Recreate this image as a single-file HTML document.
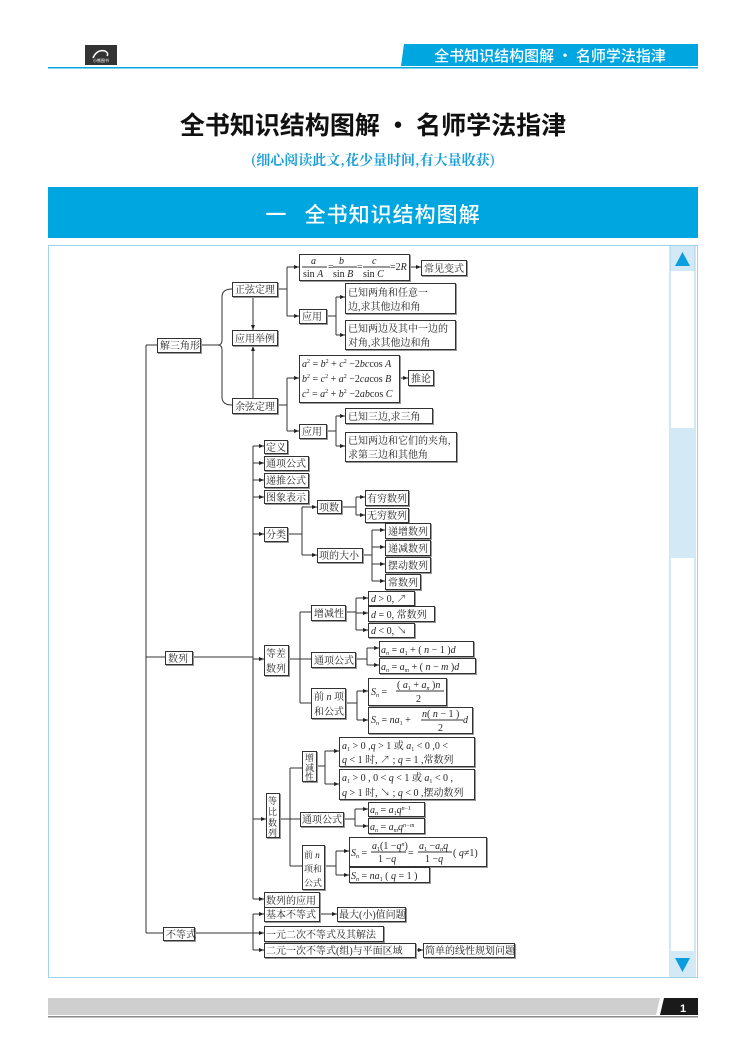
<!DOCTYPE html>
<html><head><meta charset="utf-8"><style>
html,body{margin:0;padding:0;background:#fff;}
svg{display:block;}
.b{fill:#fff;stroke:#333;stroke-width:1;}
.t{font-family:"Liberation Serif","Noto Serif CJK SC",serif;font-size:10px;fill:#222;}
.l{stroke:#333;stroke-width:1;fill:none;}
</style></head><body>
<svg width="747" height="1054" viewBox="0 0 747 1054" xmlns="http://www.w3.org/2000/svg">
<defs>
<marker id="a" markerWidth="6" markerHeight="6" refX="5" refY="3" orient="auto" markerUnits="userSpaceOnUse">
<path d="M0,1 L5,3 L0,5 z" fill="#222"/></marker>
<filter id="s"><feDropShadow dx="1" dy="1" stdDeviation="0" flood-color="#999"/></filter>
</defs>
<!-- header -->
<rect x="85" y="45" width="32" height="20" fill="#333"/>
<text x="101" y="62" font-size="4" fill="#fff" text-anchor="middle" font-family="Noto Sans CJK SC,sans-serif">小熊图书</text>
<path d="M93,58 q4,-9 12,-7 q4,2 2,5" stroke="#fff" stroke-width="1.5" fill="none"/>
<polygon points="404,44 698,44 698,66 401,66" fill="#00a6e0"/>
<text x="550" y="61" font-size="15" fill="#fff" text-anchor="middle" font-family="Noto Sans CJK SC,sans-serif" font-weight="500">全书知识结构图解 · 名师学法指津</text>
<rect x="48" y="67" width="650" height="1.5" fill="#00a6e0"/>
<text x="373" y="134" font-size="25" fill="#111" text-anchor="middle" font-family="Noto Sans CJK SC,sans-serif" font-weight="bold">全书知识结构图解 · 名师学法指津</text>
<text x="373" y="165" font-size="14" fill="#1a9fd8" text-anchor="middle" font-family="Noto Serif CJK SC,serif" font-weight="bold">(细心阅读此文,花少量时间,有大量收获)</text>
<rect x="48" y="187" width="650" height="51" fill="#00a6e0"/>
<text x="373" y="222" font-size="21" fill="#fff" text-anchor="middle" font-family="Noto Sans CJK SC,sans-serif" font-weight="500" letter-spacing="1" xml:space="preserve">一   全书知识结构图解</text>
<!-- content frame -->
<rect x="48.5" y="245.5" width="649" height="732" fill="#fff" stroke="#9dd4ea"/>
<rect x="670" y="246" width="25" height="25" fill="#d3e9f6"/>
<line x1="670" y1="246" x2="670" y2="978" stroke="#9dd4ea"/>
<line x1="695" y1="246" x2="695" y2="978" stroke="#9dd4ea"/>
<polygon points="682.5,252 690,266 675,266" fill="#0a9de0"/>
<rect x="670" y="428" width="25" height="130" fill="#d3e9f6"/>
<rect x="670" y="951" width="25" height="26" fill="#d3e9f6"/>
<polygon points="675,958 690,958 682.5,972" fill="#0a9de0"/>
<!-- footer -->
<polygon points="48,998 660,998 656,1015 48,1015" fill="#cfcfcf"/>
<polygon points="664,998 698,998 698,1015 660,1015" fill="#1a1a1a"/>
<text x="680" y="1012" font-size="11" fill="#fff" font-family="Liberation Sans,sans-serif" font-weight="bold">1</text>
<rect x="48" y="1016" width="650" height="1.5" fill="#888"/>

<!-- lines -->
<g class="l">
<path d="M146,345 V933 M146,345 H157 M146,657 H165 M146,933 H163"/>
<path d="M200,345 H218 M232,289 Q222,289 222,297 V340 Q222,345 218,345 Q222,345 222,350 V397 Q222,405 232,405"/>
<path d="M277,289 H287 M287,267 V316"/>
<path d="M287,267 H299" marker-end="url(#a)"/><path d="M287,316 H299" marker-end="url(#a)"/>
<path d="M253,296 V330" marker-end="url(#a)"/><path d="M253,398 V346" marker-end="url(#a)"/>
<path d="M409,267 H421" marker-end="url(#a)"/>
<path d="M326,316 H336 M336,297 V335"/>
<path d="M336,297 H345" marker-end="url(#a)"/><path d="M336,335 H345" marker-end="url(#a)"/>
<path d="M277,405 H287 M287,378 V431"/>
<path d="M287,378 H299" marker-end="url(#a)"/><path d="M287,431 H299" marker-end="url(#a)"/>
<path d="M399,378 H408" marker-end="url(#a)"/>
<path d="M326,431 H336 M336,416 V446"/>
<path d="M336,416 H345" marker-end="url(#a)"/><path d="M336,446 H345" marker-end="url(#a)"/>
<path d="M192,657 H253 M253,446 V899"/>
<path d="M253,446 H264" marker-end="url(#a)"/><path d="M253,463 H264" marker-end="url(#a)"/>
<path d="M253,480 H264" marker-end="url(#a)"/><path d="M253,497 H264" marker-end="url(#a)"/>
<path d="M253,534 H264" marker-end="url(#a)"/><path d="M253,659 H264" marker-end="url(#a)"/>
<path d="M253,819 H266" marker-end="url(#a)"/><path d="M253,899 H264" marker-end="url(#a)"/>
<path d="M287,534 H302 M302,507 V555"/>
<path d="M302,507 H317" marker-end="url(#a)"/><path d="M302,555 H317" marker-end="url(#a)"/>
<path d="M341,507 H356 M356,497 V515"/>
<path d="M356,497 H365" marker-end="url(#a)"/><path d="M356,515 H365" marker-end="url(#a)"/>
<path d="M362,555 H372 M372,530 V581"/>
<path d="M372,530 H385" marker-end="url(#a)"/><path d="M372,547 H385" marker-end="url(#a)"/>
<path d="M372,564 H385" marker-end="url(#a)"/><path d="M372,581 H385" marker-end="url(#a)"/>
<path d="M288,659 H300 M300,612 V703 M300,612 H311 M300,659 H311 M300,703 H311"/>
<path d="M345,612 H356 M356,598 V630"/>
<path d="M356,598 H368" marker-end="url(#a)"/><path d="M356,613 H368" marker-end="url(#a)"/><path d="M356,630 H368" marker-end="url(#a)"/>
<path d="M355,659 H367 M367,648 V665"/>
<path d="M367,648 H379" marker-end="url(#a)"/><path d="M367,665 H379" marker-end="url(#a)"/>
<path d="M345,703 H357 M357,691 V720"/>
<path d="M357,691 H368" marker-end="url(#a)"/><path d="M357,720 H368" marker-end="url(#a)"/>
<path d="M279,819 H290 M290,768 V866 M290,768 H302 M290,819 H300 M290,866 H302"/>
<path d="M316,766 H325 M325,751 V784"/>
<path d="M325,751 H339" marker-end="url(#a)"/><path d="M325,784 H339" marker-end="url(#a)"/>
<path d="M343,819 H355 M355,809 V826"/>
<path d="M355,809 H368" marker-end="url(#a)"/><path d="M355,826 H368" marker-end="url(#a)"/>
<path d="M324,866 H336 M336,851 V875"/>
<path d="M336,851 H349" marker-end="url(#a)"/><path d="M336,875 H349" marker-end="url(#a)"/>
<path d="M194,933 H253 M253,914 V950"/>
<path d="M253,914 H264" marker-end="url(#a)"/><path d="M253,933 H264" marker-end="url(#a)"/><path d="M253,950 H264" marker-end="url(#a)"/>
<path d="M319,914 H337" marker-end="url(#a)"/><path d="M415,950 H423" marker-end="url(#a)"/>
</g>

<!-- boxes -->
<g filter="url(#s)">
<rect class="b" x="157.5" y="338.5" width="43" height="14"/>
<rect class="b" x="232.5" y="282.5" width="45" height="14"/>
<rect class="b" x="232.5" y="330.5" width="45" height="15"/>
<rect class="b" x="232.5" y="398.5" width="45" height="15"/>
<rect class="b" x="299.5" y="254.5" width="110" height="26"/>
<rect class="b" x="421.5" y="260.5" width="45" height="15"/>
<rect class="b" x="299.5" y="309.5" width="27" height="14"/>
<rect class="b" x="345.5" y="283.5" width="110" height="30"/>
<rect class="b" x="345.5" y="320.5" width="110" height="29"/>
<rect class="b" x="299.5" y="355.5" width="100" height="47"/>
<rect class="b" x="408.5" y="370.5" width="25" height="15"/>
<rect class="b" x="299.5" y="424.5" width="27" height="14"/>
<rect class="b" x="345.5" y="408.5" width="87" height="15"/>
<rect class="b" x="345.5" y="432.5" width="111" height="29"/>
<rect class="b" x="264.5" y="440.5" width="23" height="13"/>
<rect class="b" x="264.5" y="456.5" width="44" height="14"/>
<rect class="b" x="264.5" y="473.5" width="44" height="14"/>
<rect class="b" x="264.5" y="490.5" width="44" height="13"/>
<rect class="b" x="264.5" y="527.5" width="23" height="14"/>
<rect class="b" x="317.5" y="500.5" width="24" height="13"/>
<rect class="b" x="317.5" y="548.5" width="45" height="14"/>
<rect class="b" x="365.5" y="490.5" width="43" height="15"/>
<rect class="b" x="365.5" y="508.5" width="43" height="14"/>
<rect class="b" x="385.5" y="523.5" width="45" height="15"/>
<rect class="b" x="385.5" y="540.5" width="45" height="15"/>
<rect class="b" x="385.5" y="557.5" width="45" height="15"/>
<rect class="b" x="385.5" y="574.5" width="35" height="15"/>
<rect class="b" x="165.5" y="651.5" width="27" height="13"/>
<rect class="b" x="264.5" y="645.5" width="24" height="30"/>
<rect class="b" x="311.5" y="605.5" width="34" height="15"/>
<rect class="b" x="311.5" y="652.5" width="44" height="15"/>
<rect class="b" x="311.5" y="688.5" width="34" height="30"/>
<rect class="b" x="368.5" y="591.5" width="46" height="14"/>
<rect class="b" x="368.5" y="606.5" width="66" height="15"/>
<rect class="b" x="368.5" y="623.5" width="46" height="14"/>
<rect class="b" x="379.5" y="641.5" width="94" height="15"/>
<rect class="b" x="379.5" y="658.5" width="96" height="15"/>
<rect class="b" x="368.5" y="678.5" width="78" height="27"/>
<rect class="b" x="368.5" y="707.5" width="104" height="26"/>
<rect class="b" x="266.5" y="793.5" width="13" height="44"/>
<rect class="b" x="302.5" y="751.5" width="14" height="30"/>
<rect class="b" x="339.5" y="737.5" width="135" height="29"/>
<rect class="b" x="339.5" y="769.5" width="135" height="30"/>
<rect class="b" x="300.5" y="812.5" width="43" height="14"/>
<rect class="b" x="368.5" y="802.5" width="56" height="14"/>
<rect class="b" x="368.5" y="818.5" width="56" height="15"/>
<rect class="b" x="302.5" y="845.5" width="22" height="44"/>
<rect class="b" x="349.5" y="837.5" width="137" height="29"/>
<rect class="b" x="349.5" y="867.5" width="80" height="15"/>
<rect class="b" x="264.5" y="892.5" width="55" height="15"/>
<rect class="b" x="163.5" y="927.5" width="31" height="13"/>
<rect class="b" x="264.5" y="907.5" width="55" height="14"/>
<rect class="b" x="337.5" y="907.5" width="68" height="14"/>
<rect class="b" x="264.5" y="926.5" width="119" height="15"/>
<rect class="b" x="264.5" y="943.5" width="151" height="14"/>
<rect class="b" x="423.5" y="943.5" width="91" height="14"/>
</g>

<!-- texts -->
<g class="t">
<text x="160" y="349">解三角形</text>
<text x="235" y="293">正弦定理</text>
<text x="235" y="342">应用举例</text>
<text x="235" y="410">余弦定理</text>
<text x="424" y="272">常见变式</text>
<text x="302" y="320">应用</text>
<text x="348" y="296">已知两角和任意一</text>
<text x="348" y="310">边,求其他边和角</text>
<text x="348" y="332">已知两边及其中一边的</text>
<text x="348" y="346">对角,求其他边和角</text>
<text x="411" y="382">推论</text>
<text x="302" y="435">应用</text>
<text x="348" y="420">已知三边,求三角</text>
<text x="348" y="444">已知两边和它们的夹角,</text>
<text x="348" y="458">求第三边和其他角</text>
<text x="266" y="451">定义</text>
<text x="266" y="467">通项公式</text>
<text x="266" y="484">递推公式</text>
<text x="266" y="501">图象表示</text>
<text x="266" y="538">分类</text>
<text x="319" y="511">项数</text>
<text x="319" y="559">项的大小</text>
<text x="367" y="502">有穷数列</text>
<text x="367" y="519">无穷数列</text>
<text x="388" y="535">递增数列</text>
<text x="388" y="552">递减数列</text>
<text x="388" y="569">摆动数列</text>
<text x="388" y="586">常数列</text>
<text x="168" y="662">数列</text>
<text x="266" y="657">等差</text>
<text x="266" y="672">数列</text>
<text x="314" y="617">增减性</text>
<text x="314" y="664">通项公式</text>
<text x="314" y="700">前 <tspan font-style="italic">n</tspan> 项</text>
<text x="314" y="715">和公式</text>
<text x="371" y="602"><tspan font-style="italic">d</tspan> &gt; 0, ↗</text>
<text x="371" y="618"><tspan font-style="italic">d</tspan> = 0, 常数列</text>
<text x="371" y="634"><tspan font-style="italic">d</tspan> &lt; 0, ↘</text>
<text x="381" y="653"><tspan font-style="italic">a<tspan font-size="6" dy="2">n</tspan></tspan><tspan dy="-2"> = </tspan><tspan font-style="italic">a</tspan><tspan font-size="6" dy="2">1</tspan><tspan dy="-2"> + ( </tspan><tspan font-style="italic">n</tspan> − 1 )<tspan font-style="italic">d</tspan></text>
<text x="381" y="670"><tspan font-style="italic">a<tspan font-size="6" dy="2">n</tspan></tspan><tspan dy="-2"> = </tspan><tspan font-style="italic">a</tspan><tspan font-size="6" dy="2" font-style="italic">m</tspan><tspan dy="-2"> + ( </tspan><tspan font-style="italic">n</tspan> − <tspan font-style="italic">m</tspan> )<tspan font-style="italic">d</tspan></text>
<text x="371" y="695"><tspan font-style="italic">S<tspan font-size="6" dy="2">n</tspan></tspan><tspan dy="-2"> =</tspan></text>
<text x="397" y="688">( <tspan font-style="italic">a</tspan><tspan font-size="6" dy="2">1</tspan><tspan dy="-2"> + </tspan><tspan font-style="italic">a</tspan><tspan font-size="6" dy="2" font-style="italic">n</tspan><tspan dy="-2"> )</tspan><tspan font-style="italic">n</tspan></text>
<line x1="396" y1="691" x2="444" y2="691" stroke="#333"/>
<text x="416" y="702">2</text>
<text x="371" y="723"><tspan font-style="italic">S<tspan font-size="6" dy="2">n</tspan></tspan><tspan dy="-2"> = </tspan><tspan font-style="italic">na</tspan><tspan font-size="6" dy="2">1</tspan><tspan dy="-2"> +</tspan></text>
<text x="422" y="717"><tspan font-style="italic">n</tspan>( <tspan font-style="italic">n</tspan> − 1 )</text>
<line x1="421" y1="720" x2="463" y2="720" stroke="#333"/>
<text x="438" y="731">2</text>
<text x="463" y="723" font-style="italic">d</text>
<g font-size="9"><text x="268" y="804">等</text><text x="268" y="815">比</text><text x="268" y="826">数</text><text x="268" y="836">列</text></g>
<g font-size="9"><text x="305" y="761">增</text><text x="305" y="771">减</text><text x="305" y="780">性</text></g>
<text x="342" y="749"><tspan font-style="italic">a</tspan><tspan font-size="6" dy="2">1</tspan><tspan dy="-2"> &gt; 0 ,</tspan><tspan font-style="italic">q</tspan> &gt; 1 或 <tspan font-style="italic">a</tspan><tspan font-size="6" dy="2">1</tspan><tspan dy="-2"> &lt; 0 ,0 &lt;</tspan></text>
<text x="342" y="763"><tspan font-style="italic">q</tspan> &lt; 1 时, ↗ ; <tspan font-style="italic">q</tspan> = 1 ,常数列</text>
<text x="342" y="781"><tspan font-style="italic">a</tspan><tspan font-size="6" dy="2">1</tspan><tspan dy="-2"> &gt; 0 ,  0 &lt; </tspan><tspan font-style="italic">q</tspan> &lt; 1 或 <tspan font-style="italic">a</tspan><tspan font-size="6" dy="2">1</tspan><tspan dy="-2"> &lt; 0 ,</tspan></text>
<text x="342" y="796"><tspan font-style="italic">q</tspan> &gt; 1 时, ↘ ; <tspan font-style="italic">q</tspan> &lt; 0 ,摆动数列</text>
<text x="302" y="823">通项公式</text>
<text x="370" y="813"><tspan font-style="italic">a<tspan font-size="6" dy="2">n</tspan></tspan><tspan dy="-2"> = </tspan><tspan font-style="italic">a</tspan><tspan font-size="6" dy="2">1</tspan><tspan dy="-2" font-style="italic">q</tspan><tspan font-size="6" dy="-3" font-style="italic">n</tspan><tspan font-size="6">−1</tspan></text>
<text x="370" y="830"><tspan font-style="italic">a<tspan font-size="6" dy="2">n</tspan></tspan><tspan dy="-2"> = </tspan><tspan font-style="italic">a</tspan><tspan font-size="6" dy="2" font-style="italic">m</tspan><tspan dy="-2" font-style="italic">q</tspan><tspan font-size="6" dy="-3" font-style="italic">n−m</tspan></text>
<g font-size="9"><text x="304" y="858">前 <tspan font-style="italic">n</tspan></text>
<text x="304" y="872">项和</text>
<text x="304" y="886">公式</text></g>
<text x="351" y="856"><tspan font-style="italic">S<tspan font-size="6" dy="2">n</tspan></tspan><tspan dy="-2"> =</tspan></text>
<text x="372" y="849"><tspan font-style="italic">a</tspan><tspan font-size="6" dy="2">1</tspan><tspan dy="-2">(1 −</tspan><tspan font-style="italic">q</tspan><tspan font-size="6" dy="-3" font-style="italic">n</tspan><tspan dy="3">)</tspan></text>
<line x1="371" y1="852" x2="406" y2="852" stroke="#333"/>
<text x="378" y="862">1 −<tspan font-style="italic">q</tspan></text>
<text x="408" y="856">=</text>
<text x="419" y="849"><tspan font-style="italic">a</tspan><tspan font-size="6" dy="2">1</tspan><tspan dy="-2"> −</tspan><tspan font-style="italic">a<tspan font-size="6" dy="2">n</tspan></tspan><tspan dy="-2" font-style="italic">q</tspan></text>
<line x1="418" y1="852" x2="452" y2="852" stroke="#333"/>
<text x="425" y="862">1 −<tspan font-style="italic">q</tspan></text>
<text x="453" y="856">( <tspan font-style="italic">q</tspan>≠1)</text>
<text x="351" y="879"><tspan font-style="italic">S<tspan font-size="6" dy="2">n</tspan></tspan><tspan dy="-2"> = </tspan><tspan font-style="italic">na</tspan><tspan font-size="6" dy="2">1</tspan><tspan dy="-2"> ( </tspan><tspan font-style="italic">q</tspan> = 1 )</text>
<text x="266" y="904">数列的应用</text>
<text x="166" y="938">不等式</text>
<text x="266" y="918">基本不等式</text>
<text x="339" y="918">最大(小)值问题</text>
<text x="266" y="938">一元二次不等式及其解法</text>
<text x="266" y="954">二元一次不等式(组)与平面区域</text>
<text x="425" y="954">简单的线性规划问题</text>
<text x="311" y="264" font-style="italic">a</text>
<line x1="302" y1="267" x2="327" y2="267" stroke="#333"/>
<text x="303" y="277">sin <tspan font-style="italic">A</tspan></text>
<text x="328" y="270">=</text>
<text x="339" y="264" font-style="italic">b</text>
<line x1="333" y1="267" x2="357" y2="267" stroke="#333"/>
<text x="333" y="277">sin <tspan font-style="italic">B</tspan></text>
<text x="357" y="270">=</text>
<text x="372" y="264" font-style="italic">c</text>
<line x1="363" y1="267" x2="390" y2="267" stroke="#333"/>
<text x="363" y="277">sin <tspan font-style="italic">C</tspan></text>
<text x="390" y="270">=2<tspan font-style="italic">R</tspan></text>
<text x="302" y="367"><tspan font-style="italic">a</tspan><tspan font-size="6" dy="-4">2</tspan><tspan dy="4"> = </tspan><tspan font-style="italic">b</tspan><tspan font-size="6" dy="-4">2</tspan><tspan dy="4"> + </tspan><tspan font-style="italic">c</tspan><tspan font-size="6" dy="-4">2</tspan><tspan dy="4"> −2</tspan><tspan font-style="italic">bc</tspan>cos <tspan font-style="italic">A</tspan></text>
<text x="302" y="382"><tspan font-style="italic">b</tspan><tspan font-size="6" dy="-4">2</tspan><tspan dy="4"> = </tspan><tspan font-style="italic">c</tspan><tspan font-size="6" dy="-4">2</tspan><tspan dy="4"> + </tspan><tspan font-style="italic">a</tspan><tspan font-size="6" dy="-4">2</tspan><tspan dy="4"> −2</tspan><tspan font-style="italic">ca</tspan>cos <tspan font-style="italic">B</tspan></text>
<text x="302" y="397"><tspan font-style="italic">c</tspan><tspan font-size="6" dy="-4">2</tspan><tspan dy="4"> = </tspan><tspan font-style="italic">a</tspan><tspan font-size="6" dy="-4">2</tspan><tspan dy="4"> + </tspan><tspan font-style="italic">b</tspan><tspan font-size="6" dy="-4">2</tspan><tspan dy="4"> −2</tspan><tspan font-style="italic">ab</tspan>cos <tspan font-style="italic">C</tspan></text>
</g>
</svg>
</body></html>
